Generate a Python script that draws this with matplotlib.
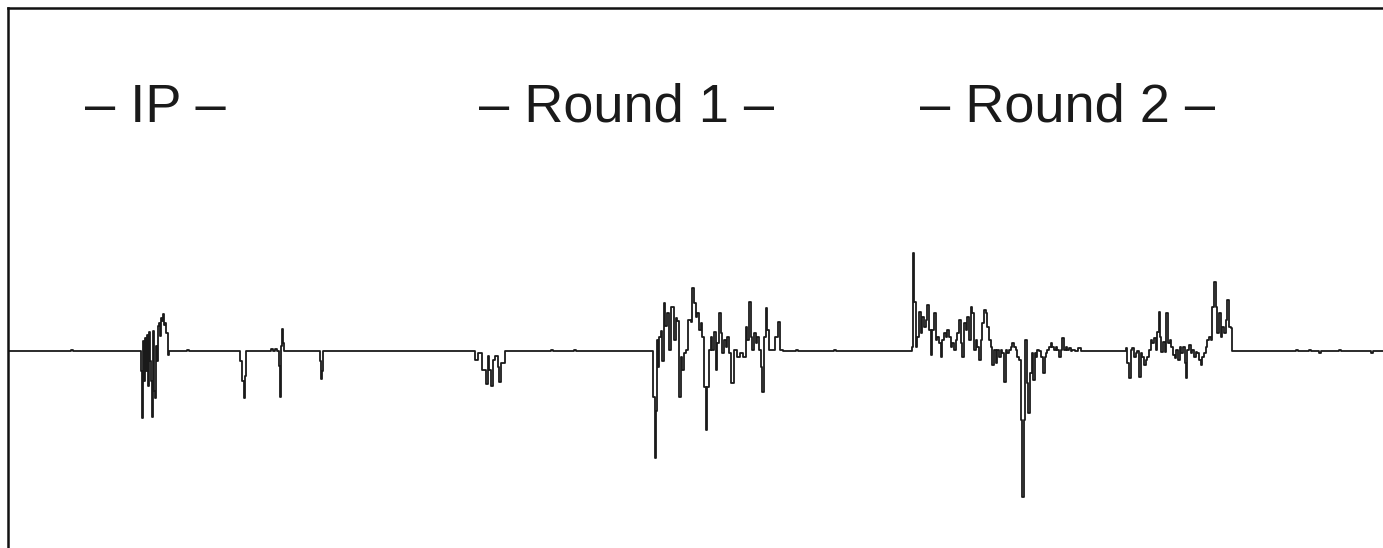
import matplotlib
matplotlib.use("Agg")
import matplotlib.pyplot as plt
import numpy as np

# ---- data: (time, amplitude) knots of the trace; amplitude 0 = baseline ----
ip_t = [140, 142, 143, 144, 145, 146, 147, 148, 149, 150, 151, 152, 153, 154, 155,
        156, 157, 158, 159, 160, 161, 162, 163, 164, 165, 166, 167, 168, 169, 170]
ip_v = [0, -20, -67, 10, -30, 13, -20, 16, -35, 19, -10, -30, -66, 20, -40,
        -47, 5, -10, 25, 28, 15, 33, 30, 37, 26, 28, 18, 18, -4, 0]

ip2_t = [240, 241, 243, 245, 246, 247, 270, 272, 274, 276, 279, 280, 281, 282, 283, 284, 285,
         320, 321, 322, 323, 324]
ip2_v = [0, -10, -30, -47, -25, 0, 0, 2, 0, 2, 0, -15, -46, 5, 22, 8, 0,
         0, -10, -28, -20, 0]

r1a_t = [473, 477, 480, 485, 487, 489, 490, 492, 494, 497, 499, 500, 503, 507]
r1a_v = [0, -9, -2, -19, -33, -5, -19, -35, -9, -5, -16, -31, -12, 0]

r1_t = [653, 654, 655, 656, 657, 658, 659, 660, 662, 663, 665, 666, 668, 670, 673, 675, 677,
        678, 680, 682, 683, 685, 687, 690, 692, 693, 695, 697, 698, 700, 702, 703, 705, 707,
        708, 710, 712, 713, 715, 717, 718, 720, 722, 723, 725, 727, 728, 730, 733, 735, 737,
        738, 742, 745, 747, 748, 750, 752, 753, 755, 757, 758, 760, 762, 763, 765, 767, 768,
        770, 773, 777, 779, 782, 785]
r1_v = [0, -46, -46, -107, -60, 11, -16, 14, 20, -10, 48, 25, 38, 1, 44, 11, 33,
        30, -46, -6, -19, -2, 1, 31, 29, 63, 48, 34, 38, 21, 28, 14, -36, -79,
        -36, 1, 14, 1, 19, -19, 8, 38, 18, -2, 11, 4, 14, -2, -32, 1, 1,
        -6, -2, -6, 24, 11, 49, 14, 1, 18, 8, 14, 1, -16, -41, 14, 43, 21,
        1, 1, 14, 29, 1, 0]

r2_t = [912, 913, 914, 915, 916.7, 918.3, 920, 921.7, 923.3, 925, 926.7, 928.3, 930, 931.7,
        933.3, 935, 936.7, 938.3, 940, 941.7, 943.3, 945, 946.7, 948.3, 950, 951.7, 953.3,
        955, 956.7, 958.3, 960, 961.7, 963.3, 965, 966.7, 968.3, 970, 971.7, 973.3, 975,
        976.7, 978.3, 980, 981.7, 983.3, 985, 986.7, 988.3, 990, 991.7, 993.3, 995, 996.7,
        998.3, 1000, 1001.7, 1003.3, 1005, 1006.7, 1008.3, 1010, 1011.7, 1013.3, 1015,
        1016.7, 1018.3, 1020, 1021.7, 1023.3, 1025, 1026, 1027.3, 1029.3, 1030.7, 1032.7,
        1034, 1035.3, 1036.7, 1038.3, 1040, 1041.7, 1044, 1045.3, 1046.7, 1048.3, 1050,
        1051.7, 1053.3, 1055, 1056.7, 1058.3, 1060, 1061.7, 1063.3, 1065, 1066.7, 1068.3,
        1070, 1071.7, 1073.3, 1076.7, 1080, 1081.7]
r2_v = [0, 4, 98, 49, 4, 14, 39, 18, 34, 24, 31, 46, 21, -4,
        21, 38, 11, 14, 8, -6, 11, 18, 14, 21, 14, 4, 8,
        1, 11, 18, 31, 8, -6, 28, 21, 34, 11, 44, 38, 1,
        11, 4, -9, 11, 28, 41, 38, 24, 11, 4, -14, 1, -12,
        1, -6, 1, -2, -31, 1, -2, 1, 4, 8, 4,
        1, -6, -9, -69, -146, -69, 11, -32, -62, -22, -2,
        -29, -2, -6, 1, 0, -6, -22, -6, -2, 1, 4,
        8, 4, 1, 4, 1, -6, 1, 13, 1, 4, 1,
        3, 0, 1, 0, 3, 0]

r2b_t = [1125, 1126.7, 1128.3, 1130, 1131.7, 1133.3, 1135, 1136.7, 1138.3, 1140, 1141.7,
         1143.3, 1145, 1146.7, 1148.3, 1150, 1151.7, 1153.3, 1155, 1156.7, 1158.3, 1159.3,
         1160.7, 1162.3, 1164, 1165.7, 1167.3, 1169, 1170.7, 1172.3, 1174, 1175.7, 1177.3,
         1179, 1180.7, 1182.3, 1184, 1185.7, 1186.7, 1188.3, 1190, 1191.7, 1193.3, 1195,
         1196.7, 1198.3, 1200, 1201.7, 1203.3, 1205, 1206.7, 1208.3, 1210, 1211.7, 1213.3,
         1215, 1216.7, 1218.3, 1220, 1221.7, 1223.3, 1225, 1226.7, 1228.3, 1230, 1231.7, 1232]
r2b_v = [0, 3, -12, -27, 1, 3, -6, -2, 0, -26, -2,
         -6, -14, -9, -6, 1, 11, 8, 13, 1, 19, 39,
         14, -1, 9, -1, 38, 8, 11, 4, -4, -7, 1,
         -9, 4, -2, 4, -12, -27, 1, 6, -2, 1, -6,
         -1, -2, -9, -14, -6, -2, 4, 11, 14, 11, 44,
         69, 44, 18, 38, 14, 24, 18, 31, 51, 24, 23, 0]

noise_t = [8, 70, 72, 74, 186, 188, 190, 550, 552, 554, 573, 575, 577, 795, 797, 799,
           833, 835, 837, 1295, 1297, 1299, 1308, 1310, 1312, 1318, 1320, 1322, 1338, 1340,
           1342, 1370, 1372, 1374, 1383]
noise_v = [0, 0, 1.5, 0, 0, 1, 0, 0, 1, 0, 0, 1, 0, 0, 1.5, 0,
           0, 1, 0, 0, 1, 0, 0, 1.5, 0, 0, -1.5, 0, 0, 1,
           0, 0, -2, 0, 0]

labels = ["\u2013 IP \u2013", "\u2013 Round 1 \u2013", "\u2013 Round 2 \u2013"]
label_t = [155.5, 626.5, 1068]

# ---- assemble the trace ----
segs = [(noise_t, noise_v), (ip_t, ip_v), (ip2_t, ip2_v), (r1a_t, r1a_v),
        (r1_t, r1_v), (r2_t, r2_v), (r2b_t, r2b_v)]
pts = []
for tt, vv in segs:
    pts.extend(zip(tt, vv))
pts.sort(key=lambda p: p[0])
t = np.array([p[0] for p in pts], dtype=float)
v = np.array([p[1] for p in pts], dtype=float)

W, H = 1383, 548
fig = plt.figure(figsize=(W / 100, H / 100), dpi=100)
fig.patch.set_facecolor("white")
ax = fig.add_axes([8 / W, 0, 1 - 8 / W, 1 - 8 / H])
ax.plot(t, v, color="#1a1a1a", lw=1.3, drawstyle="steps-mid")
ax.set_xlim(8, 1383)
ax.set_ylim(351 - 548, 351 - 8)
for s in ["right", "bottom"]:
    ax.spines[s].set_visible(False)
for s in ["left", "top"]:
    ax.spines[s].set_linewidth(1.8)
    ax.spines[s].set_color("#111111")
ax.set_xticks([])
ax.set_yticks([])

for lab, lt in zip(labels, label_t):
    ax.text(lt, 351 - 122, lab, ha="center", va="baseline",
            fontsize=39, family=["Liberation Sans", "DejaVu Sans"], color="#1a1a1a")

fig.savefig("out.png", dpi=100, facecolor="white")
